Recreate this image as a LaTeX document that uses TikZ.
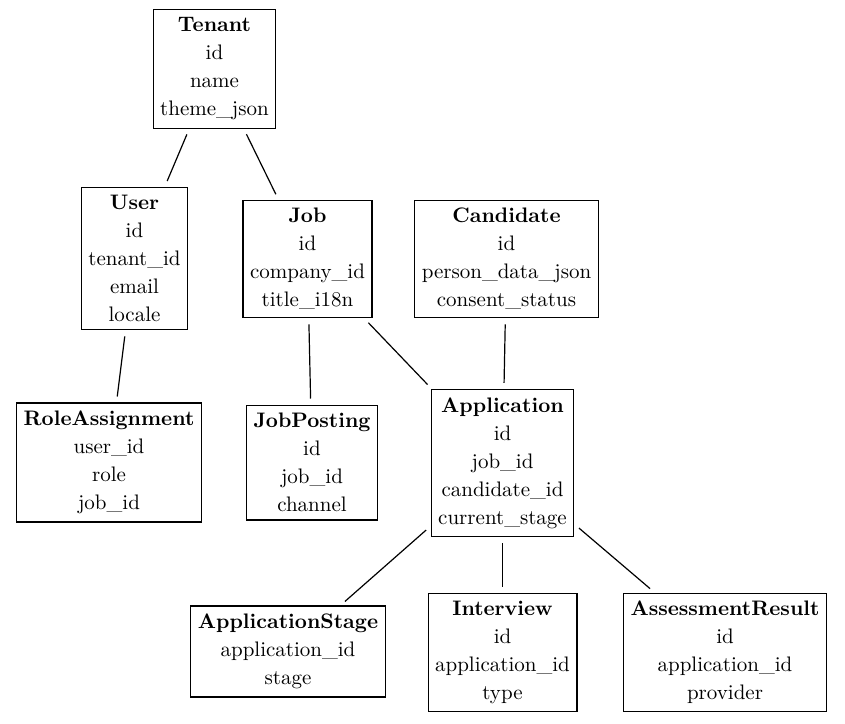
\documentclass[tikz,border=0pt]{standalone}
\begin{document}
\begin{tikzpicture}[x=0.5pt,y=-0.5pt,
  entity/.style={draw, line width=0.6pt, align=center, inner xsep=3.5pt, inner ysep=4pt,
    font=\fontsize{10.5}{14}\selectfont},
  link/.style={line width=0.6pt, shorten >=3pt, shorten <=3pt}]
  \useasboundingbox (0,0) rectangle (845,723);

  % --- top row ---
  \node[entity] (tenant) at (214.5,69) {\textbf{Tenant}\\id\\name\\theme\_json};

  % --- second row ---
  \node[entity] (user) at (134.5,258.5) {\textbf{User}\\id\\tenant\_id\\email\\locale};
  \node[entity] (job) at (307.5,259) {\textbf{Job}\\id\\company\_id\\title\_i18n};
  \node[entity] (candidate) at (506.5,259) {\textbf{Candidate}\\id\\person\_data\_json\\consent\_status};

  % --- third row ---
  \node[entity] (roleassign) at (109,462.5) {\textbf{RoleAssignment}\\user\_id\\role\\job\_id};
  \node[entity] (jobposting) at (312,462.5) {\textbf{JobPosting}\\id\\job\_id\\channel};
  \node[entity] (application) at (502.5,463) {\textbf{Application}\\id\\job\_id\\candidate\_id\\current\_stage};

  % --- bottom row ---
  \node[entity] (appstage) at (288,651.5) {\textbf{ApplicationStage}\\application\_id\\stage};
  \node[entity] (interview) at (502.5,652.5) {\textbf{Interview}\\id\\application\_id\\type};
  \node[entity] (assessment) at (725,652.5) {\textbf{AssessmentResult}\\id\\application\_id\\provider};

  % --- links ---
  \draw[link] (tenant) -- (user);
  \draw[link] (tenant) -- (job);
  \draw[link] (user) -- (roleassign);
  \draw[link] (job) -- (jobposting);
  \draw[link] (job) -- (application);
  \draw[link] (candidate) -- (application);
  \draw[link] (application) -- (appstage);
  \draw[link] (application) -- (interview);
  \draw[link] (application) -- (assessment);

\end{tikzpicture}
\end{document}
